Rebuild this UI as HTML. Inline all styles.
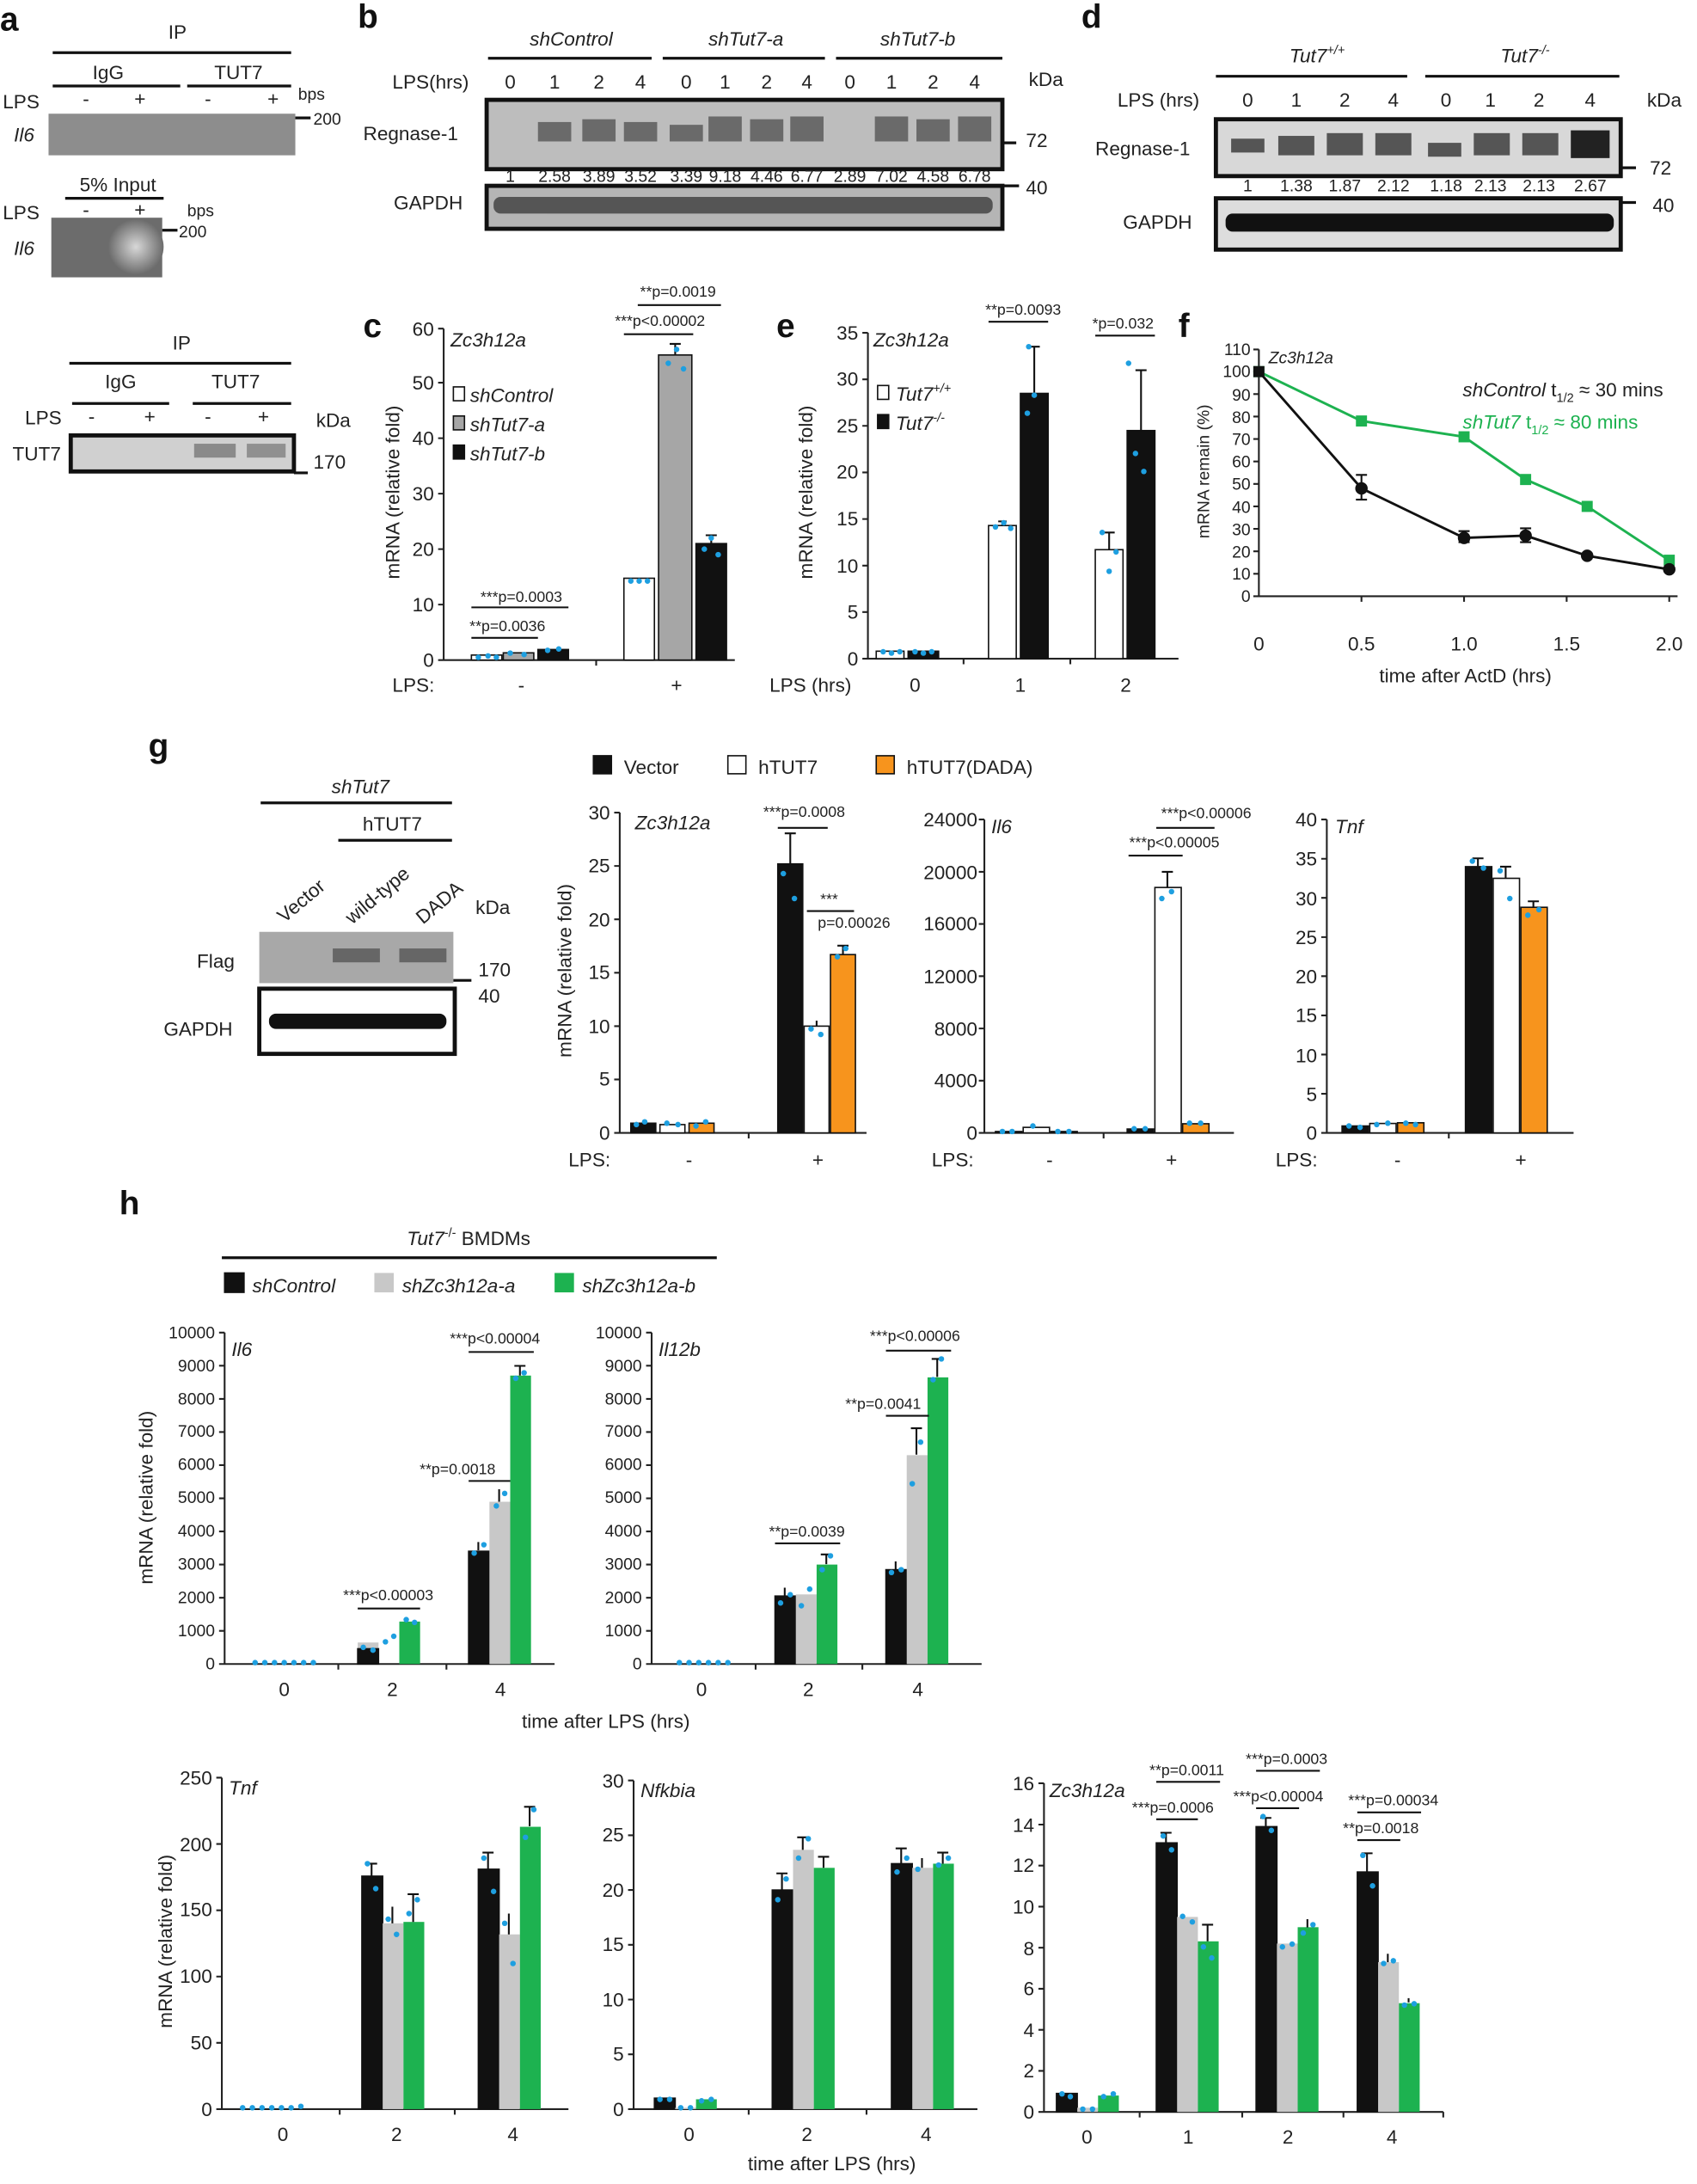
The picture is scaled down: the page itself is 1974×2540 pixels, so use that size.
<!DOCTYPE html>
<html><head><meta charset="utf-8"><style>
html,body{margin:0;padding:0;background:#fff}
svg{display:block}
text{font-family:"Liberation Sans",sans-serif;fill:#222}
.t{font-size:14px}.s{font-size:12px}.xs{font-size:11px}.i{font-style:italic}
.L{font-size:24px;font-weight:bold;fill:#111}
.m{text-anchor:middle}.e{text-anchor:end}
.ax{stroke:#222;stroke-width:1.3;fill:none}
.ln{stroke:#111;stroke-width:2}
.bl{fill:#111;stroke:#111;stroke-width:1}
.wh{fill:#fff;stroke:#111;stroke-width:1}
.gr{fill:#a6a6a6;stroke:#111;stroke-width:1}
.lg{fill:#c8c8c8}
.gn{fill:#1db250}
.or{fill:#f7941d;stroke:#111;stroke-width:1}
.er{stroke:#111;stroke-width:1.3}
.d{fill:#1e9fe0}
</style></head><body>
<svg width="1974" height="2540" viewBox="0 0 1224 1575" xmlns="http://www.w3.org/2000/svg">
<rect width="1224" height="1575" fill="#fff"/>
<!-- panel a -->
<text class="L" x="0" y="22">a</text>
<text class="t m" x="128" y="28">IP</text><line class="ln" x1="38" y1="38" x2="210" y2="38"/>
<text class="t m" x="78" y="57">IgG</text><line class="ln" x1="38" y1="62" x2="130" y2="62"/>
<text class="t m" x="172" y="57">TUT7</text><line class="ln" x1="135" y1="62" x2="210" y2="62"/>
<text class="t" x="2" y="78">LPS</text>
<text class="t m" x="62" y="76">-</text><text class="t m" x="101" y="76">+</text><text class="t m" x="150" y="76">-</text><text class="t m" x="197" y="76">+</text>
<text class="s" x="215" y="72">bps</text>
<rect x="35" y="82" width="178" height="30" fill="#8d8d8d"/>
<text class="t i" x="10" y="102">Il6</text>
<line class="ln" x1="213" y1="85" x2="224" y2="85"/><text class="s" x="226" y="90">200</text>
<text class="t m" x="85" y="138">5% Input</text><line class="ln" x1="47" y1="143" x2="118" y2="143"/>
<text class="t" x="2" y="158">LPS</text><text class="t m" x="62" y="156">-</text><text class="t m" x="101" y="156">+</text>
<text class="s" x="135" y="156">bps</text>
<defs><radialGradient id="bl1"><stop offset="0" stop-color="#d8d8d8"/><stop offset="1" stop-color="#6c6c6c"/></radialGradient></defs>
<rect x="37" y="157" width="80" height="43" fill="#6c6c6c"/><ellipse cx="98" cy="178" rx="20" ry="20" fill="url(#bl1)"/>
<text class="t i" x="10" y="184">Il6</text>
<line class="ln" x1="117" y1="166" x2="128" y2="166"/><text class="s" x="129" y="171">200</text>
<text class="t m" x="131" y="252">IP</text><line class="ln" x1="50" y1="262" x2="210" y2="262"/>
<text class="t m" x="87" y="280">IgG</text><line class="ln" x1="52" y1="291" x2="122" y2="291"/>
<text class="t m" x="170" y="280">TUT7</text><line class="ln" x1="139" y1="291" x2="210" y2="291"/>
<text class="t" x="18" y="306">LPS</text>
<text class="t m" x="66" y="305">-</text><text class="t m" x="108" y="305">+</text><text class="t m" x="150" y="305">-</text><text class="t m" x="190" y="305">+</text>
<text class="t" x="228" y="308">kDa</text>
<rect x="51" y="314" width="161" height="26" fill="#d0d0d0" stroke="#111" stroke-width="3"/>
<rect x="140" y="320" width="30" height="10" fill="#8a8a8a"/><rect x="178" y="320" width="28" height="10" fill="#909090"/>
<text class="t" x="9" y="332">TUT7</text>
<line class="ln" x1="212" y1="341" x2="222" y2="341"/><text class="t" x="226" y="338">170</text>
<!-- panel b -->
<text class="L" x="258" y="20">b</text>
<text class="t i m" x="412" y="33">shControl</text><line class="ln" x1="352" y1="42" x2="470" y2="42"/>
<text class="t i m" x="538" y="33">shTut7-a</text><line class="ln" x1="478" y1="42" x2="595" y2="42"/>
<text class="t i m" x="662" y="33">shTut7-b</text><line class="ln" x1="603" y1="42" x2="723" y2="42"/>
<text class="t" x="283" y="64">LPS(hrs)</text>
<g class="t m"><text x="368" y="64">0</text><text x="400" y="64">1</text><text x="432" y="64">2</text><text x="462" y="64">4</text><text x="495" y="64">0</text><text x="523" y="64">1</text><text x="553" y="64">2</text><text x="582" y="64">4</text><text x="613" y="64">0</text><text x="643" y="64">1</text><text x="673" y="64">2</text><text x="703" y="64">4</text></g>
<text class="t" x="742" y="62">kDa</text>
<rect x="351" y="72" width="372" height="50" fill="#bdbdbd" stroke="#111" stroke-width="3"/>
<g fill="#6a6a6a"><rect x="388" y="88" width="24" height="14"/><rect x="420" y="86" width="24" height="16"/><rect x="450" y="88" width="24" height="14"/><rect x="483" y="90" width="24" height="12"/><rect x="511" y="84" width="24" height="18"/><rect x="541" y="86" width="24" height="16"/><rect x="570" y="84" width="24" height="18"/><rect x="631" y="84" width="24" height="18"/><rect x="661" y="86" width="24" height="16"/><rect x="691" y="84" width="24" height="18"/></g>
<text class="t" x="262" y="101">Regnase-1</text>
<line class="ln" x1="723" y1="103" x2="733" y2="103"/><text class="t" x="740" y="106">72</text>
<g class="s m"><text x="368" y="131">1</text><text x="400" y="131">2.58</text><text x="432" y="131">3.89</text><text x="462" y="131">3.52</text><text x="495" y="131">3.39</text><text x="523" y="131">9.18</text><text x="553" y="131">4.46</text><text x="582" y="131">6.77</text><text x="613" y="131">2.89</text><text x="643" y="131">7.02</text><text x="673" y="131">4.58</text><text x="703" y="131">6.78</text></g>
<rect x="351" y="134" width="372" height="31" fill="#b5b5b5" stroke="#111" stroke-width="3"/>
<g fill="#555"><rect x="356" y="142" width="360" height="12" rx="5"/></g>
<text class="t" x="284" y="151">GAPDH</text>
<line class="ln" x1="723" y1="134" x2="735" y2="134"/><text class="t" x="740" y="140">40</text>
<!-- panel d -->
<text class="L" x="780" y="20">d</text>
<text class="t i m" x="950" y="45">Tut7<tspan font-size="9" dy="-6">+/+</tspan></text><line class="ln" x1="877" y1="55" x2="1015" y2="55"/>
<text class="t i m" x="1100" y="45">Tut7<tspan font-size="9" dy="-6">-/-</tspan></text><line class="ln" x1="1028" y1="55" x2="1168" y2="55"/>
<text class="t" x="806" y="77">LPS (hrs)</text>
<g class="t m"><text x="900" y="77">0</text><text x="935" y="77">1</text><text x="970" y="77">2</text><text x="1005" y="77">4</text><text x="1043" y="77">0</text><text x="1075" y="77">1</text><text x="1110" y="77">2</text><text x="1147" y="77">4</text></g>
<text class="t" x="1188" y="77">kDa</text>
<rect x="877" y="86" width="292" height="41" fill="#d8d8d8" stroke="#111" stroke-width="3"/>
<g fill="#555"><rect x="888" y="100" width="24" height="10"/><rect x="922" y="98" width="26" height="14"/><rect x="957" y="96" width="26" height="16"/><rect x="992" y="96" width="26" height="16"/><rect x="1030" y="103" width="24" height="10"/><rect x="1063" y="96" width="26" height="16"/><rect x="1098" y="96" width="26" height="16"/><rect x="1133" y="94" width="28" height="20" fill="#222"/></g>
<text class="t" x="790" y="112">Regnase-1</text>
<g class="s m"><text x="900" y="138">1</text><text x="935" y="138">1.38</text><text x="970" y="138">1.87</text><text x="1005" y="138">2.12</text><text x="1043" y="138">1.18</text><text x="1075" y="138">2.13</text><text x="1110" y="138">2.13</text><text x="1147" y="138">2.67</text></g>
<line class="ln" x1="1169" y1="121" x2="1180" y2="121"/><text class="t" x="1190" y="126">72</text>
<rect x="877" y="143" width="292" height="37" fill="#ddd" stroke="#111" stroke-width="3"/>
<rect x="884" y="154" width="280" height="13" rx="5" fill="#111"/>
<text class="t" x="810" y="165">GAPDH</text>
<line class="ln" x1="1169" y1="146" x2="1180" y2="146"/><text class="t" x="1192" y="153">40</text>
<!-- panel c -->
<text class="L" x="262" y="243">c</text>
<path class="ax" d="M320,237V476H530M316,476H320M316,436H320M316,396H320M316,356H320M316,316H320M316,276H320M316,237H320M430,476V480"/>
<g class="t e"><text x="313" y="481">0</text><text x="313" y="441">10</text><text x="313" y="401">20</text><text x="313" y="361">30</text><text x="313" y="321">40</text><text x="313" y="281">50</text><text x="313" y="242">60</text></g>
<text class="t" transform="translate(288,355) rotate(-90)" text-anchor="middle">mRNA (relative fold)</text>
<text class="t i" x="325" y="250">Zc3h12a</text>
<rect class="wh" x="327" y="279" width="8" height="10"/><text class="t i" x="339" y="290">shControl</text>
<rect class="gr" x="327" y="300" width="8" height="10"/><text class="t i" x="339" y="311">shTut7-a</text>
<rect class="bl" x="327" y="321" width="8" height="10"/><text class="t i" x="339" y="332">shTut7-b</text>
<rect class="wh" x="340" y="472.4" width="22" height="3.6"/><rect class="gr" x="363" y="470.8" width="22" height="5.2"/><rect class="bl" x="388" y="468.4" width="22" height="7.6"/>
<rect class="wh" x="450" y="417" width="22" height="59"/><rect class="gr" x="475" y="256" width="24" height="220"/><rect class="bl" x="502" y="392" width="22" height="84"/>
<path class="er" d="M487,256V248M483,248H491M513,392V386M509,386H517"/>
<g class="d"><circle cx="345" cy="474" r="2"/><circle cx="352" cy="473" r="2"/><circle cx="358" cy="474" r="2"/><circle cx="368" cy="471" r="2"/><circle cx="378" cy="472" r="2"/><circle cx="395" cy="469" r="2"/><circle cx="403" cy="468" r="2"/><circle cx="455" cy="419" r="2"/><circle cx="461" cy="419" r="2"/><circle cx="467" cy="419" r="2"/><circle cx="482" cy="262" r="2"/><circle cx="488" cy="252" r="2"/><circle cx="493" cy="266" r="2"/><circle cx="508" cy="396" r="2"/><circle cx="513" cy="388" r="2"/><circle cx="518" cy="400" r="2"/></g>
<text class="xs m" x="489" y="214">**p=0.0019</text><line class="er" x1="460" y1="220" x2="520" y2="220"/>
<text class="xs m" x="476" y="235">***p&lt;0.00002</text><line class="er" x1="450" y1="241" x2="500" y2="241"/>
<text class="xs m" x="376" y="434">***p=0.0003</text><line class="er" x1="340" y1="438" x2="410" y2="438"/>
<text class="xs m" x="366" y="455">**p=0.0036</text><line class="er" x1="340" y1="460" x2="388" y2="460"/>
<text class="t" x="283" y="499">LPS:</text><text class="t m" x="376" y="499">-</text><text class="t m" x="488" y="499">+</text>
<!-- panel e -->
<text class="L" x="560" y="243">e</text>
<path class="ax" d="M626,240V475H850M622,475H626M622,441.4H626M622,407.9H626M622,374.3H626M622,340.7H626M622,307.1H626M622,273.6H626M622,240H626M695,475V479M772,475V479"/>
<g class="t e"><text x="619" y="480">0</text><text x="619" y="446">5</text><text x="619" y="413">10</text><text x="619" y="379">15</text><text x="619" y="345">20</text><text x="619" y="312">25</text><text x="619" y="278">30</text><text x="619" y="245">35</text></g>
<text class="t" transform="translate(586,355) rotate(-90)" text-anchor="middle">mRNA (relative fold)</text>
<text class="t i" x="630" y="250">Zc3h12a</text>
<rect class="wh" x="633" y="278" width="8" height="10"/><text class="t i" x="646" y="289">Tut7<tspan font-size="9" dy="-6">+/+</tspan></text>
<rect class="bl" x="633" y="299" width="8" height="10"/><text class="t i" x="646" y="310">Tut7<tspan font-size="9" dy="-6">-/-</tspan></text>
<rect class="wh" x="632" y="469.6" width="20" height="5.4"/><rect class="bl" x="655" y="469.6" width="22" height="5.4"/>
<rect class="wh" x="713" y="379" width="20" height="96"/><rect class="bl" x="736" y="283.7" width="20" height="191.3"/>
<rect class="wh" x="790" y="396.4" width="20" height="78.6"/><rect class="bl" x="813" y="310.5" width="20" height="164.5"/>
<path class="er" d="M723,379V376M720,376H726M746,283.7V250M742,250H750M800,396.4V384M796,384H804M823,310.5V267M819,267H827"/>
<g class="d"><circle cx="637" cy="470" r="2"/><circle cx="643" cy="471" r="2"/><circle cx="649" cy="470" r="2"/><circle cx="660" cy="470" r="2"/><circle cx="666" cy="471" r="2"/><circle cx="672" cy="470" r="2"/><circle cx="718" cy="380" r="2"/><circle cx="724" cy="377" r="2"/><circle cx="729" cy="381" r="2"/><circle cx="741" cy="298" r="2"/><circle cx="746" cy="285" r="2"/><circle cx="742" cy="250" r="2"/><circle cx="795" cy="384" r="2"/><circle cx="800" cy="412" r="2"/><circle cx="805" cy="398" r="2"/><circle cx="814" cy="262" r="2"/><circle cx="819" cy="327" r="2"/><circle cx="825" cy="340" r="2"/></g>
<text class="xs m" x="738" y="227">**p=0.0093</text><line class="er" x1="713" y1="232" x2="756" y2="232"/>
<text class="xs m" x="810" y="237">*p=0.032</text><line class="er" x1="790" y1="242" x2="833" y2="242"/>
<text class="t" x="555" y="499">LPS (hrs)</text><text class="t m" x="660" y="499">0</text><text class="t m" x="736" y="499">1</text><text class="t m" x="812" y="499">2</text>
<!-- panel f -->
<text class="L" x="850" y="243">f</text>
<path class="ax" d="M908,252V430H1210M904,430H908M904,413.8H908M904,397.6H908M904,381.4H908M904,365.2H908M904,349H908M904,332.8H908M904,316.6H908M904,300.4H908M904,284.2H908M904,268H908M904,252H908M982,430V434M1056,430V434M1130,430V434M1204,430V434"/>
<g class="s e"><text x="902" y="434">0</text><text x="902" y="418">10</text><text x="902" y="402">20</text><text x="902" y="386">30</text><text x="902" y="370">40</text><text x="902" y="353">50</text><text x="902" y="337">60</text><text x="902" y="321">70</text><text x="902" y="305">80</text><text x="902" y="289">90</text><text x="902" y="272">100</text><text x="902" y="256">110</text></g>
<g class="t m"><text x="908" y="469">0</text><text x="982" y="469">0.5</text><text x="1056" y="469">1.0</text><text x="1130" y="469">1.5</text><text x="1204" y="469">2.0</text></g>
<text class="t m" x="1057" y="492">time after ActD (hrs)</text>
<text class="s" transform="translate(872,340) rotate(-90)" text-anchor="middle">mRNA remain (%)</text>
<text class="s i" x="915" y="262">Zc3h12a</text>
<polyline points="908,268 982,303.6 1056,315 1100.4,345.8 1144.8,365.2 1204,404.1" fill="none" stroke="#1db250" stroke-width="1.8"/>
<g fill="#1db250"><rect x="904" y="264" width="8" height="8"/><rect x="978" y="299.6" width="8" height="8"/><rect x="1052" y="311" width="8" height="8"/><rect x="1096.4" y="341.8" width="8" height="8"/><rect x="1140.8" y="361.2" width="8" height="8"/><rect x="1200" y="400" width="8" height="8"/></g>
<polyline points="908,268 982,352.2 1056,387.9 1100.4,386.3 1144.8,400.8 1204,410.6" fill="none" stroke="#111" stroke-width="1.8"/>
<path class="er" d="M982,342.5V360.3M978,342.5H986M978,360.3H986M1056,383V391M1052,383H1060M1052,391H1060M1100.4,381V391M1096.4,381H1104.4M1096.4,391H1104.4"/>
<g fill="#111"><rect x="904" y="264" width="8" height="8"/><circle cx="982" cy="352.2" r="4.5"/><circle cx="1056" cy="387.9" r="4.5"/><circle cx="1100.4" cy="386.3" r="4.5"/><circle cx="1144.8" cy="400.8" r="4.5"/><circle cx="1204" cy="410.6" r="4.5"/></g>
<text class="t" x="1055" y="286"><tspan class="i">shControl</tspan> t<tspan font-size="9" dy="4">1/2</tspan><tspan dy="-4"> ≈ 30 mins</tspan></text>
<text class="t" x="1055" y="309" style="fill:#1db250"><tspan class="i">shTut7</tspan> t<tspan font-size="9" dy="4">1/2</tspan><tspan dy="-4"> ≈ 80 mins</tspan></text>
<!-- panel g -->
<text class="L" x="107" y="546">g</text>
<text class="t i m" x="260" y="572">shTut7</text><line class="ln" x1="188" y1="579" x2="326" y2="579"/>
<text class="t m" x="283" y="599">hTUT7</text><line class="ln" x1="244" y1="606" x2="326" y2="606"/>
<text class="t" transform="translate(205,666) rotate(-40)">Vector</text>
<text class="t" transform="translate(254,667) rotate(-40)">wild-type</text>
<text class="t" transform="translate(305,667) rotate(-40)">DADA</text>
<text class="t" x="343" y="659">kDa</text>
<rect x="187" y="672" width="140" height="37" fill="#a8a8a8"/>
<rect x="240" y="684" width="34" height="10" fill="#666"/><rect x="288" y="684" width="34" height="10" fill="#666"/>
<text class="t" x="142" y="698">Flag</text>
<line class="ln" x1="327" y1="707" x2="340" y2="707"/><text class="t" x="345" y="704">170</text><text class="t" x="345" y="723">40</text>
<rect x="187" y="713" width="141" height="47" fill="#fff" stroke="#111" stroke-width="3"/>
<rect x="194" y="731" width="128" height="11" rx="5" fill="#111"/>
<text class="t" x="118" y="747">GAPDH</text>
<rect class="bl" x="428" y="545" width="13" height="13"/><text class="t" x="450" y="558">Vector</text>
<rect class="wh" x="525" y="545" width="13" height="13"/><text class="t" x="547" y="558">hTUT7</text>
<rect class="or" x="632" y="545" width="13" height="13"/><text class="t" x="654" y="558">hTUT7(DADA)</text>
<!-- g1 -->
<path class="ax" d="M447,586V817H625M443,817H447M443,778.5H447M443,740H447M443,701.5H447M443,663H447M443,624.5H447M443,586H447M540,817V821"/>
<g class="t e"><text x="440" y="822">0</text><text x="440" y="783">5</text><text x="440" y="745">10</text><text x="440" y="706">15</text><text x="440" y="668">20</text><text x="440" y="629">25</text><text x="440" y="591">30</text></g>
<text class="t" transform="translate(412,700) rotate(-90)" text-anchor="middle">mRNA (relative fold)</text>
<text class="t i" x="458" y="598">Zc3h12a</text>
<rect class="bl" x="455" y="810" width="18" height="7"/><rect class="wh" x="476" y="811" width="18" height="6"/><rect class="or" x="497" y="810" width="18" height="7"/>
<rect class="bl" x="561" y="623" width="18" height="194"/><rect class="wh" x="580" y="740" width="18" height="77"/><rect class="or" x="599" y="688.4" width="18" height="128.6"/>
<path class="er" d="M570,623V601M566,601H574M589,740V736M608,688V682M604,682H612"/>
<g class="d"><circle cx="459" cy="811" r="2"/><circle cx="465" cy="809" r="2"/><circle cx="481" cy="810" r="2"/><circle cx="489" cy="811" r="2"/><circle cx="502" cy="812" r="2"/><circle cx="509" cy="809" r="2"/><circle cx="565" cy="630" r="2"/><circle cx="573" cy="648" r="2"/><circle cx="585" cy="742" r="2"/><circle cx="592" cy="746" r="2"/><circle cx="604" cy="690" r="2"/><circle cx="610" cy="684" r="2"/></g>
<text class="xs m" x="580" y="589">***p=0.0008</text><line class="er" x1="561" y1="597" x2="597" y2="597"/>
<text class="xs m" x="598" y="652">***</text><line class="er" x1="582" y1="657" x2="616" y2="657"/><text class="xs m" x="616" y="669">p=0.00026</text>
<text class="t" x="410" y="841">LPS:</text><text class="t m" x="497" y="841">-</text><text class="t m" x="590" y="841">+</text>
<!-- g2 -->
<path class="ax" d="M710,591V817H890M706,817H710M706,779.3H710M706,741.7H710M706,704H710M706,666.3H710M706,628.7H710M706,591H710M796,817V821"/>
<g class="t e"><text x="705" y="822">0</text><text x="705" y="784">4000</text><text x="705" y="747">8000</text><text x="705" y="709">12000</text><text x="705" y="671">16000</text><text x="705" y="634">20000</text><text x="705" y="596">24000</text></g>
<text class="t i" x="715" y="601">Il6</text>
<rect class="bl" x="718" y="816" width="19" height="1"/><rect class="wh" x="738" y="813" width="19" height="4"/><rect class="or" x="758" y="816" width="19" height="1"/>
<rect class="bl" x="813" y="814.2" width="19" height="2.8"/><rect class="wh" x="833" y="640" width="19" height="177"/><rect class="or" x="853" y="810.4" width="19" height="6.6"/>
<path class="er" d="M842,640V628.7M838,628.7H846"/>
<g class="d"><circle cx="723" cy="816" r="2"/><circle cx="730" cy="816" r="2"/><circle cx="745" cy="812" r="2"/><circle cx="763" cy="816" r="2"/><circle cx="771" cy="816" r="2"/><circle cx="818" cy="814" r="2"/><circle cx="826" cy="814" r="2"/><circle cx="838" cy="648" r="2"/><circle cx="845" cy="643" r="2"/><circle cx="858" cy="810" r="2"/><circle cx="866" cy="810" r="2"/></g>
<text class="xs m" x="870" y="590">***p&lt;0.00006</text><line class="er" x1="834" y1="597" x2="876" y2="597"/>
<text class="xs m" x="847" y="611">***p&lt;0.00005</text><line class="er" x1="814" y1="617" x2="853" y2="617"/>
<text class="t" x="672" y="841">LPS:</text><text class="t m" x="757" y="841">-</text><text class="t m" x="845" y="841">+</text>
<!-- g3 -->
<path class="ax" d="M957,591V817H1135M953,817H957M953,788.8H957M953,760.5H957M953,732.3H957M953,704H957M953,675.8H957M953,647.5H957M953,619.3H957M953,591H957M1045,817V821"/>
<g class="t e"><text x="950" y="822">0</text><text x="950" y="794">5</text><text x="950" y="766">10</text><text x="950" y="737">15</text><text x="950" y="709">20</text><text x="950" y="681">25</text><text x="950" y="653">30</text><text x="950" y="624">35</text><text x="950" y="596">40</text></g>
<text class="t i" x="963" y="601">Tnf</text>
<rect class="bl" x="968" y="812" width="19" height="5"/><rect class="wh" x="988" y="810.2" width="19" height="6.8"/><rect class="or" x="1008" y="809.7" width="19" height="7.3"/>
<rect class="bl" x="1057" y="625" width="19" height="192"/><rect class="wh" x="1077" y="633.4" width="19" height="183.6"/><rect class="or" x="1097" y="654.3" width="19" height="162.7"/>
<path class="er" d="M1066,625V619M1062,619H1070M1086,633V625M1082,625H1090M1106,654V650M1102,650H1110"/>
<g class="d"><circle cx="973" cy="812" r="2"/><circle cx="981" cy="813" r="2"/><circle cx="993" cy="811" r="2"/><circle cx="1001" cy="810" r="2"/><circle cx="1014" cy="810" r="2"/><circle cx="1021" cy="811" r="2"/><circle cx="1062" cy="621" r="2"/><circle cx="1070" cy="626" r="2"/><circle cx="1082" cy="628" r="2"/><circle cx="1089" cy="648" r="2"/><circle cx="1102" cy="660" r="2"/><circle cx="1110" cy="656" r="2"/></g>
<text class="t" x="920" y="841">LPS:</text><text class="t m" x="1008" y="841">-</text><text class="t m" x="1097" y="841">+</text>
<!-- panel h -->
<text class="L" x="86" y="876">h</text>
<text class="t m" x="338" y="898"><tspan class="i">Tut7</tspan><tspan font-size="9" dy="-6">-/-</tspan><tspan dy="6"> BMDMs</tspan></text>
<line class="ln" x1="160" y1="907" x2="517" y2="907"/>
<rect class="bl" x="162" y="918" width="14" height="14"/><text class="t i" x="182" y="932">shControl</text>
<rect class="lg" x="270" y="918" width="14" height="14"/><text class="t i" x="290" y="932">shZc3h12a-a</text>
<rect class="gn" x="400" y="918" width="14" height="14"/><text class="t i" x="420" y="932">shZc3h12a-b</text>
<!-- h1 -->
<path class="ax" d="M162,961V1200H400M158,1200H162M158,1176.1H162M158,1152.2H162M158,1128.3H162M158,1104.4H162M158,1080.5H162M158,1056.6H162M158,1032.7H162M158,1008.8H162M158,984.9H162M158,961H162M244,1200V1204M322,1200V1204"/>
<g class="s e"><text x="155" y="1204">0</text><text x="155" y="1180">1000</text><text x="155" y="1156">2000</text><text x="155" y="1132">3000</text><text x="155" y="1108">4000</text><text x="155" y="1084">5000</text><text x="155" y="1060">6000</text><text x="155" y="1036">7000</text><text x="155" y="1013">8000</text><text x="155" y="989">9000</text><text x="155" y="965">10000</text></g>
<text class="t" transform="translate(110,1080) rotate(-90)" text-anchor="middle">mRNA (relative fold)</text>
<text class="t i" x="167" y="978">Il6</text>
<rect class="lg" x="258" y="1184.5" width="15" height="15.5"/><rect class="bl" x="258" y="1189" width="15" height="11"/><rect class="gn" x="288" y="1169.4" width="15" height="30.6"/>
<rect class="bl" x="338" y="1118.7" width="15" height="81.3"/><rect class="lg" x="353" y="1083" width="15" height="117"/><rect class="gn" x="368" y="992" width="15" height="208"/>
<path class="er" d="M345,1118V1112M360,1083V1074M375,992V985M371,985H379"/>
<g class="d"><circle cx="184" cy="1199" r="2"/><circle cx="191" cy="1199" r="2"/><circle cx="198" cy="1199" r="2"/><circle cx="205" cy="1199" r="2"/><circle cx="212" cy="1199" r="2"/><circle cx="219" cy="1199" r="2"/><circle cx="226" cy="1199" r="2"/><circle cx="262" cy="1188" r="2"/><circle cx="269" cy="1190" r="2"/><circle cx="278" cy="1184" r="2"/><circle cx="284" cy="1180" r="2"/><circle cx="293" cy="1168" r="2"/><circle cx="299" cy="1170" r="2"/><circle cx="342" cy="1120" r="2"/><circle cx="349" cy="1114" r="2"/><circle cx="358" cy="1086" r="2"/><circle cx="364" cy="1077" r="2"/><circle cx="372" cy="994" r="2"/><circle cx="378" cy="990" r="2"/></g>
<text class="xs m" x="280" y="1154">***p&lt;0.00003</text><line class="er" x1="258" y1="1160" x2="303" y2="1160"/>
<text class="xs m" x="330" y="1063">**p=0.0018</text><line class="er" x1="338" y1="1068" x2="368" y2="1068"/>
<text class="xs m" x="357" y="969">***p&lt;0.00004</text><line class="er" x1="338" y1="975" x2="385" y2="975"/>
<g class="t m"><text x="205" y="1223">0</text><text x="283" y="1223">2</text><text x="361" y="1223">4</text></g>
<!-- h2 -->
<path class="ax" d="M470,961V1200H708M466,1200H470M466,1176.1H470M466,1152.2H470M466,1128.3H470M466,1104.4H470M466,1080.5H470M466,1056.6H470M466,1032.7H470M466,1008.8H470M466,984.9H470M466,961H470M545,1200V1204M622,1200V1204"/>
<g class="s e"><text x="463" y="1204">0</text><text x="463" y="1180">1000</text><text x="463" y="1156">2000</text><text x="463" y="1132">3000</text><text x="463" y="1108">4000</text><text x="463" y="1084">5000</text><text x="463" y="1060">6000</text><text x="463" y="1036">7000</text><text x="463" y="1013">8000</text><text x="463" y="989">9000</text><text x="463" y="965">10000</text></g>
<text class="t i" x="475" y="978">Il12b</text>
<rect class="bl" x="559" y="1151" width="15" height="49"/><rect class="lg" x="574" y="1149.8" width="15" height="50.2"/><rect class="gn" x="589" y="1128.3" width="15" height="71.7"/>
<rect class="bl" x="639" y="1132" width="15" height="68"/><rect class="lg" x="654" y="1049.4" width="15" height="150.6"/><rect class="gn" x="669" y="993.3" width="15" height="206.7"/>
<path class="er" d="M566,1151V1145M596,1128V1121M592,1121H600M646,1132V1126M661,1049V1030M657,1030H665M676,993V980M672,980H680"/>
<g class="d"><circle cx="490" cy="1199" r="2"/><circle cx="497" cy="1199" r="2"/><circle cx="504" cy="1199" r="2"/><circle cx="511" cy="1199" r="2"/><circle cx="518" cy="1199" r="2"/><circle cx="525" cy="1199" r="2"/><circle cx="563" cy="1156" r="2"/><circle cx="570" cy="1150" r="2"/><circle cx="578" cy="1158" r="2"/><circle cx="584" cy="1146" r="2"/><circle cx="593" cy="1132" r="2"/><circle cx="599" cy="1122" r="2"/><circle cx="643" cy="1134" r="2"/><circle cx="650" cy="1132" r="2"/><circle cx="658" cy="1070" r="2"/><circle cx="664" cy="1040" r="2"/><circle cx="673" cy="995" r="2"/><circle cx="679" cy="980" r="2"/></g>
<text class="xs m" x="582" y="1108">**p=0.0039</text><line class="er" x1="559" y1="1113" x2="606" y2="1113"/>
<text class="xs m" x="637" y="1016">**p=0.0041</text><line class="er" x1="639" y1="1021" x2="670" y2="1021"/>
<text class="xs m" x="660" y="967">***p&lt;0.00006</text><line class="er" x1="639" y1="974" x2="686" y2="974"/>
<g class="t m"><text x="506" y="1223">0</text><text x="583" y="1223">2</text><text x="662" y="1223">4</text></g>
<text class="t m" x="437" y="1246">time after LPS (hrs)</text>
<!-- h3 -->
<path class="ax" d="M160,1282V1521H410M156,1521H160M156,1473.2H160M156,1425.4H160M156,1377.6H160M156,1329.8H160M156,1282H160M245,1521V1525M328,1521V1525"/>
<g class="t e"><text x="153" y="1526">0</text><text x="153" y="1478">50</text><text x="153" y="1430">100</text><text x="153" y="1382">150</text><text x="153" y="1335">200</text><text x="153" y="1287">250</text></g>
<text class="t" transform="translate(124,1400) rotate(-90)" text-anchor="middle">mRNA (relative fold)</text>
<text class="t i" x="165" y="1294">Tnf</text>
<rect class="bl" x="261" y="1353" width="15" height="168"/><rect class="lg" x="276" y="1387" width="15" height="134"/><rect class="gn" x="291" y="1386" width="15" height="135"/>
<rect class="bl" x="345" y="1348" width="15" height="173"/><rect class="lg" x="360" y="1395" width="15" height="126"/><rect class="gn" x="375" y="1317.4" width="15" height="203.6"/>
<path class="er" d="M268,1353V1344M264,1344H272M283,1387V1375M298,1386V1366M294,1366H302M352,1348V1336M348,1336H356M367,1395V1380M382,1317V1303M378,1303H386"/>
<g class="d"><circle cx="175" cy="1520" r="2"/><circle cx="182" cy="1520" r="2"/><circle cx="189" cy="1520" r="2"/><circle cx="196" cy="1520" r="2"/><circle cx="203" cy="1520" r="2"/><circle cx="210" cy="1520" r="2"/><circle cx="217" cy="1519" r="2"/><circle cx="265" cy="1344" r="2"/><circle cx="271" cy="1362" r="2"/><circle cx="280" cy="1384" r="2"/><circle cx="286" cy="1395" r="2"/><circle cx="295" cy="1380" r="2"/><circle cx="301" cy="1370" r="2"/><circle cx="349" cy="1340" r="2"/><circle cx="356" cy="1364" r="2"/><circle cx="364" cy="1387" r="2"/><circle cx="370" cy="1416" r="2"/><circle cx="379" cy="1325" r="2"/><circle cx="385" cy="1305" r="2"/></g>
<g class="t m"><text x="204" y="1544">0</text><text x="286" y="1544">2</text><text x="370" y="1544">4</text></g>
<!-- h4 -->
<path class="ax" d="M457,1284V1521H705M453,1521H457M453,1481.5H457M453,1442H457M453,1402.5H457M453,1363H457M453,1323.5H457M453,1284H457M540,1521V1525M625,1521V1525"/>
<g class="t e"><text x="450" y="1526">0</text><text x="450" y="1486">5</text><text x="450" y="1447">10</text><text x="450" y="1407">15</text><text x="450" y="1368">20</text><text x="450" y="1328">25</text><text x="450" y="1289">30</text></g>
<text class="t i" x="462" y="1296">Nfkbia</text>
<rect class="bl" x="472" y="1513.1" width="15" height="7.9"/><rect class="lg" x="487" y="1520" width="15" height="1"/><rect class="gn" x="502" y="1513.9" width="15" height="7.1"/>
<rect class="bl" x="557" y="1363" width="15" height="158"/><rect class="lg" x="572" y="1334" width="15" height="187"/><rect class="gn" x="587" y="1347" width="15" height="174"/>
<rect class="bl" x="643" y="1344" width="15" height="177"/><rect class="lg" x="658" y="1347" width="15" height="174"/><rect class="gn" x="673" y="1344" width="15" height="177"/>
<path class="er" d="M564,1363V1351M560,1351H568M579,1334V1325M575,1325H583M594,1347V1339M590,1339H598M650,1344V1333M646,1333H654M665,1347V1340M680,1344V1336M676,1336H684"/>
<g class="d"><circle cx="476" cy="1514" r="2"/><circle cx="483" cy="1514" r="2"/><circle cx="491" cy="1520" r="2"/><circle cx="498" cy="1520" r="2"/><circle cx="506" cy="1515" r="2"/><circle cx="513" cy="1514" r="2"/><circle cx="561" cy="1370" r="2"/><circle cx="567" cy="1355" r="2"/><circle cx="576" cy="1340" r="2"/><circle cx="583" cy="1326" r="2"/><circle cx="647" cy="1350" r="2"/><circle cx="654" cy="1340" r="2"/><circle cx="662" cy="1348" r="2"/><circle cx="677" cy="1345" r="2"/><circle cx="684" cy="1340" r="2"/></g>
<g class="t m"><text x="497" y="1544">0</text><text x="582" y="1544">2</text><text x="668" y="1544">4</text></g>
<text class="t m" x="600" y="1565">time after LPS (hrs)</text>
<!-- h5 -->
<path class="ax" d="M753,1286V1523H1041M749,1523H753M749,1493.4H753M749,1463.8H753M749,1434.2H753M749,1404.6H753M749,1375H753M749,1345.4H753M749,1315.8H753M749,1286H753M822,1523V1527M896,1523V1527M969,1523V1527M1041,1523V1527"/>
<g class="t e"><text x="746" y="1528">0</text><text x="746" y="1498">2</text><text x="746" y="1469">4</text><text x="746" y="1439">6</text><text x="746" y="1410">8</text><text x="746" y="1380">10</text><text x="746" y="1350">12</text><text x="746" y="1321">14</text><text x="746" y="1291">16</text></g>
<text class="t i" x="757" y="1296">Zc3h12a</text>
<rect class="bl" x="762" y="1509.7" width="15" height="13.3"/><rect class="lg" x="777" y="1520" width="15" height="3"/><rect class="gn" x="792" y="1511.2" width="15" height="11.8"/>
<rect class="bl" x="834" y="1329" width="15" height="194"/><rect class="lg" x="849" y="1382.4" width="15" height="140.6"/><rect class="gn" x="864" y="1400" width="15" height="123"/>
<rect class="bl" x="906" y="1317.3" width="15" height="205.7"/><rect class="lg" x="921" y="1401.6" width="15" height="121.4"/><rect class="gn" x="936" y="1389.8" width="15" height="133.2"/>
<rect class="bl" x="979" y="1350" width="15" height="173"/><rect class="lg" x="994" y="1415" width="15" height="108"/><rect class="gn" x="1009" y="1444.6" width="15" height="78.4"/>
<path class="er" d="M841,1329V1321.7M837,1321.7H845M871,1400V1388M867,1388H875M913,1317V1311M909,1311H917M943,1390V1384M986,1350V1336.5M982,1336.5H990M1001,1415V1409M1016,1444V1441"/>
<g class="d"><circle cx="766" cy="1510" r="2"/><circle cx="772" cy="1512" r="2"/><circle cx="781" cy="1521" r="2"/><circle cx="788" cy="1521" r="2"/><circle cx="796" cy="1512" r="2"/><circle cx="803" cy="1510" r="2"/><circle cx="839" cy="1324" r="2"/><circle cx="845" cy="1334" r="2"/><circle cx="853" cy="1382" r="2"/><circle cx="860" cy="1386" r="2"/><circle cx="868" cy="1404" r="2"/><circle cx="874" cy="1412" r="2"/><circle cx="911" cy="1310" r="2"/><circle cx="917" cy="1320" r="2"/><circle cx="925" cy="1404" r="2"/><circle cx="932" cy="1402" r="2"/><circle cx="940" cy="1394" r="2"/><circle cx="947" cy="1388" r="2"/><circle cx="983" cy="1338" r="2"/><circle cx="990" cy="1360" r="2"/><circle cx="998" cy="1416" r="2"/><circle cx="1005" cy="1414" r="2"/><circle cx="1013" cy="1446" r="2"/><circle cx="1020" cy="1445" r="2"/></g>
<text class="xs m" x="856" y="1280">**p=0.0011</text><line class="er" x1="834" y1="1285" x2="880" y2="1285"/>
<text class="xs m" x="846" y="1307">***p=0.0006</text><line class="er" x1="834" y1="1312" x2="864" y2="1312"/>
<text class="xs m" x="928" y="1272">***p=0.0003</text><line class="er" x1="906" y1="1277" x2="952" y2="1277"/>
<text class="xs m" x="922" y="1299">***p&lt;0.00004</text><line class="er" x1="906" y1="1304" x2="937" y2="1304"/>
<text class="xs m" x="1005" y="1302">***p=0.00034</text><line class="er" x1="979" y1="1307" x2="1025" y2="1307"/>
<text class="xs m" x="996" y="1322">**p=0.0018</text><line class="er" x1="979" y1="1327" x2="1010" y2="1327"/>
<g class="t m"><text x="784" y="1546">0</text><text x="857" y="1546">1</text><text x="929" y="1546">2</text><text x="1004" y="1546">4</text></g>
</svg>
</body></html>
